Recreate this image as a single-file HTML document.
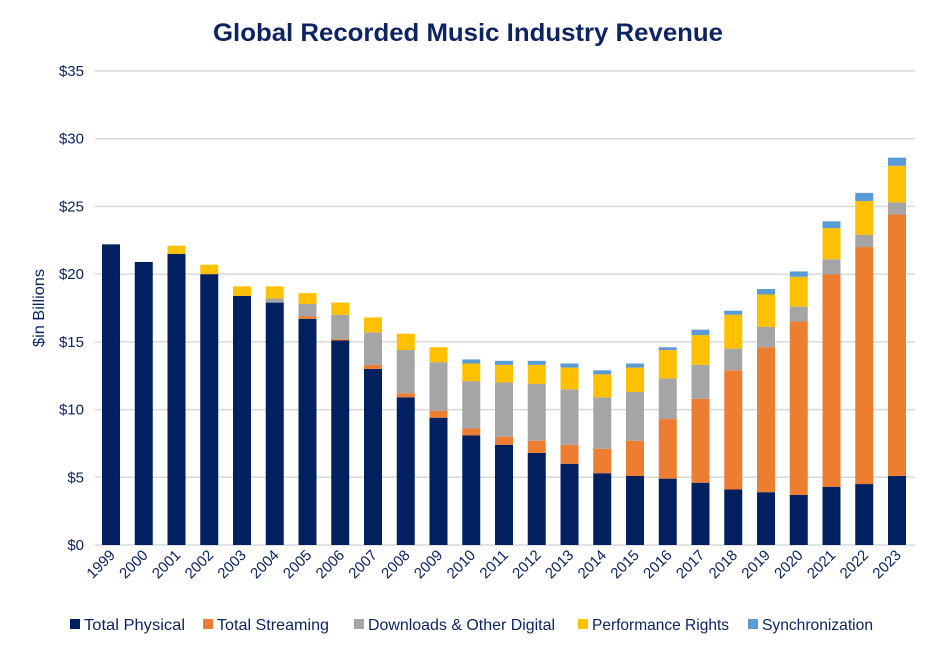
<!DOCTYPE html>
<html><head><meta charset="utf-8"><style>
body{margin:0;background:#fff;width:935px;height:653px;overflow:hidden;font-family:"Liberation Sans",sans-serif}
</style></head><body>
<svg id="chart" width="935" height="653" xmlns="http://www.w3.org/2000/svg">
<text x="468" y="41" text-anchor="middle" font-size="25" font-weight="bold" fill="#0e2462" textLength="510" lengthAdjust="spacingAndGlyphs">Global Recorded Music Industry Revenue</text>
<text transform="translate(44,308) rotate(-90)" text-anchor="middle" font-size="16" fill="#0e2462" textLength="78" lengthAdjust="spacingAndGlyphs">$in Billions</text>
<g id="grid"></g><g id="bars"></g><g id="xl"></g><g id="legend"></g>
</svg>
<script>
const years=["1999","2000","2001","2002","2003","2004","2005","2006","2007","2008","2009","2010","2011","2012","2013","2014","2015","2016","2017","2018","2019","2020","2021","2022","2023"];
const physical=[22.2,20.9,21.5,20.0,18.4,17.9,16.7,15.1,13.0,10.9,9.4,8.1,7.4,6.8,6.0,5.3,5.1,4.9,4.6,4.1,3.9,3.7,4.3,4.5,5.1];
const streaming=[0,0,0,0,0,0,0.2,0.1,0.3,0.3,0.5,0.5,0.6,0.9,1.4,1.8,2.6,4.4,6.2,8.8,10.7,12.8,15.7,17.5,19.3];
const downloads=[0,0,0,0,0,0.3,0.9,1.8,2.4,3.2,3.6,3.5,4.0,4.2,4.1,3.8,3.6,3.0,2.5,1.6,1.5,1.1,1.1,0.9,0.9];
const performance=[0,0,0.6,0.7,0.7,0.9,0.8,0.9,1.1,1.2,1.1,1.3,1.3,1.4,1.6,1.7,1.8,2.1,2.2,2.5,2.4,2.2,2.3,2.5,2.7];
const sync=[0,0,0,0,0,0,0,0,0,0,0,0.3,0.3,0.3,0.3,0.3,0.3,0.2,0.4,0.3,0.4,0.4,0.5,0.6,0.6];
const yTicks=[0,5,10,15,20,25,30,35];
const seriesNames=["Total Physical","Total Streaming","Downloads & Other Digital","Performance Rights","Synchronization"];
const colors=["#002060","#ed7d31","#a5a5a5","#ffc000","#5b9bd5"];
const NS="http://www.w3.org/2000/svg";
const y=v=>545-v*(474/35);
const x=i=>111+i*32.75;
function mk(t,a,p){const e=document.createElementNS(NS,t);for(const k in a)e.setAttribute(k,a[k]);p.appendChild(e);return e;}
const grid=document.getElementById('grid');
yTicks.forEach(t=>{
  const l=mk('line',{x1:95,x2:915,y1:y(t),y2:y(t),stroke:'#d9d9d9','stroke-width':1.5},grid);
  
  
  const tx=mk('text',{x:84,y:y(t)+5,'text-anchor':'end','font-size':15,fill:'#0e2462'},grid);
  tx.textContent='$'+t;
  
  
});
const bars=document.getElementById('bars');
const all=[physical,streaming,downloads,performance,sync];
years.forEach((yr,i)=>{
  let base=0;
  all.forEach((s,k)=>{
    const v=s[i];if(!v)return;
    const r=mk('rect',{x:x(i)-9,width:18,y:y(base+v),height:y(base)-y(base+v),fill:colors[k]},bars);
    
    
    base+=v;
  });
  const t=mk('text',{transform:`translate(${x(i)+5},${556}) rotate(-45)`,'text-anchor':'end','font-size':15,fill:'#0e2462',textLength:33,lengthAdjust:'spacingAndGlyphs'},document.getElementById('xl'));
  t.textContent=yr;
  
  
});
const lg=document.getElementById('legend');
const lx=[70,203,354,578,748];
const lw=[101,112,187,137,111];
seriesNames.forEach((n,k)=>{
  const g=mk('g',{},lg);
  
  
  mk('rect',{x:lx[k],y:619,width:10,height:10,fill:colors[k]},g);
  const t=mk('text',{x:lx[k]+14,y:630,'font-size':16,fill:'#0e2462',textLength:lw[k],lengthAdjust:'spacingAndGlyphs'},g);
  t.textContent=n;
});
</script>
</body></html>
